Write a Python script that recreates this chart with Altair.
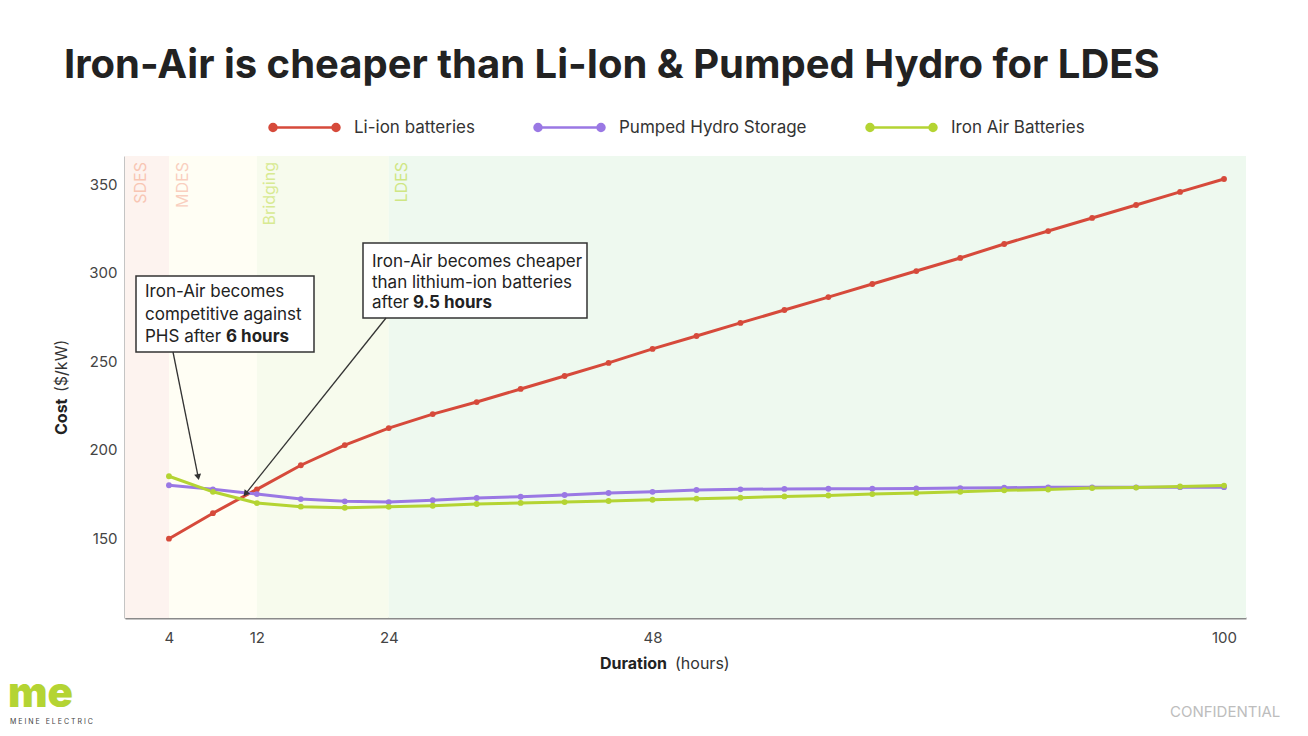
import math
import altair as alt
import pandas as pd

# ---------------- data ----------------
hours = [4, 8, 12, 16, 20, 24, 28, 32, 36, 40, 44, 48, 52, 56, 60, 64, 68, 72, 76, 80, 84, 88, 92, 96, 100]
li_ion = [149.8, 164.2, 177.7, 191.3, 202.7, 212.3, 220.2, 227.0, 234.4, 241.7, 249.1, 257.0, 264.3,
          271.7, 279.0, 286.3, 293.7, 301.0, 308.4, 316.3, 323.6, 331.0, 338.3, 345.7, 353.0]
phs = [180.0, 177.7, 175.0, 172.2, 170.9, 170.5, 171.5, 172.8, 173.5, 174.5, 175.6, 176.3, 177.3,
       177.7, 177.9, 178.0, 178.0, 178.2, 178.4, 178.6, 178.8, 178.8, 178.8, 178.9, 178.9]
iron_air = [185.1, 176.3, 169.9, 167.9, 167.3, 167.8, 168.4, 169.4, 170.0, 170.5, 171.1, 171.8, 172.4,
            173.0, 173.7, 174.2, 175.0, 175.6, 176.3, 177.1, 177.6, 178.4, 178.7, 179.3, 179.8]
series_names = ["Li-ion batteries", "Pumped Hydro Storage", "Iron Air Batteries"]
series_colors = ["#d64a3b", "#9a78e4", "#b4d433"]

band_names = ["SDES", "MDES", "Bridging", "LDES"]
band_start = [0, 4, 12, 24]
band_end = [4, 12, 24, 102]
band_label_x = [1.45, 5.3, 13.2, 25.2]
band_bg = ["#fdf3ef", "#fffef4", "#f7fbed", "#eef9ef"]
band_fg = ["#f8c6b4", "#f9cfbf", "#d8ea92", "#cfe684"]

x_ticks = [4, 12, 24, 48, 100]
y_ticks = [150, 200, 250, 300, 350]

W, H = 1121, 462
FONT = "Inter"

# ---------------- tables ----------------
rows = []
for name, vals in zip(series_names, [li_ion, phs, iron_air]):
    for h, v in zip(hours, vals):
        rows.append({"hours": h, "cost": v, "series": name})
df = pd.DataFrame(rows)

bands = pd.DataFrame({"band": band_names, "start": band_start, "end": band_end,
                      "lx": band_label_x, "bg": band_bg, "fg": band_fg})

xscale = alt.Scale(domain=[0, 102], nice=False, zero=False)
yscale = alt.Scale(domain=[105, 366], nice=False, zero=False)

bg = alt.Chart(bands).mark_rect().encode(
    x=alt.X("start:Q", scale=xscale, axis=alt.Axis(values=x_ticks, title=None, labelPadding=12)),
    x2="end:Q",
    y=alt.value(0), y2=alt.value(H),
    fill=alt.Fill("bg:N", scale=None),
)

band_text = alt.Chart(bands).mark_text(angle=270, align="right", baseline="middle",
                                       fontSize=16, font=FONT).encode(
    x=alt.X("lx:Q", scale=xscale), y=alt.value(6), text="band:N",
    fill=alt.Fill("fg:N", scale=None),
)

legend_path = ("M-0.9,0L0.9,0"
               "M-1,0A0.1,0.1,0,1,0,-0.8,0A0.1,0.1,0,1,0,-1,0Z"
               "M0.8,0A0.1,0.1,0,1,0,1,0A0.1,0.1,0,1,0,0.8,0Z")

color = alt.Color("series:N", scale=alt.Scale(domain=series_names, range=series_colors),
                  legend=alt.Legend(orient="none", legendX=143, legendY=-65, direction="horizontal",
                                    title=None, symbolType=legend_path, symbolSize=4900,
                                    symbolStrokeWidth=2.5, labelFontSize=17, labelColor="#333333",
                                    labelFont=FONT, labelOffset=13, columnPadding=54, padding=0,
                                    labelLimit=400))

lines = alt.Chart(df).mark_line(strokeWidth=3).encode(
    x=alt.X("hours:Q", scale=xscale),
    y=alt.Y("cost:Q", scale=yscale, axis=alt.Axis(values=y_ticks, title=None, labelPadding=8)),
    color=color,
    order="hours:Q",
)
points = alt.Chart(df).mark_point(filled=True, size=34, opacity=1).encode(
    x=alt.X("hours:Q", scale=xscale),
    y=alt.Y("cost:Q", scale=yscale),
    color=alt.Color("series:N", scale=alt.Scale(domain=series_names, range=series_colors), legend=None),
)


def txt(text, x, y, **kw):
    props = dict(font=FONT, align="left", baseline="alphabetic", color="#222222")
    props.update(kw)
    return alt.Chart(pd.DataFrame({"t": [text]})).mark_text(**props).encode(
        x=alt.value(x), y=alt.value(y), text="t:N")


def box(x1, y1, x2, y2):
    return alt.Chart(pd.DataFrame({"k": [0]})).mark_rect(
        fill="white", stroke="#333333", strokeWidth=1.5).encode(
        x=alt.value(x1), x2=alt.value(x2), y=alt.value(y1), y2=alt.value(y2))


def arrow(x1, y1, x2, y2):
    dx, dy = x2 - x1, y2 - y1
    n = math.hypot(dx, dy)
    ux, uy = dx / n, dy / n
    ang = math.degrees(math.atan2(ux, -uy)) % 360
    shaft = alt.Chart(pd.DataFrame({"k": [0]})).mark_rule(color="#333333", strokeWidth=1.3).encode(
        x=alt.value(x1), y=alt.value(y1), x2=alt.value(x2 - ux * 5), y2=alt.value(y2 - uy * 5))
    head = alt.Chart(pd.DataFrame({"k": [0]})).mark_point(
        shape="triangle-up", filled=True, color="#333333", size=50, opacity=1).encode(
        x=alt.value(x2 - ux * 4), y=alt.value(y2 - uy * 4), angle=alt.value(ang))
    return shaft + head


ann_size = 17
annotations = [
    box(11, 120, 189, 196),
    txt("Iron-Air becomes", 20, 141, fontSize=ann_size),
    txt("competitive against", 20, 164, fontSize=ann_size),
    txt("PHS after", 20, 186, fontSize=ann_size),
    txt("6 hours", 101, 186, fontSize=ann_size, fontWeight="bold"),
    box(238, 87, 462, 162),
    txt("Iron-Air becomes cheaper", 247, 111, fontSize=ann_size),
    txt("than lithium-ion batteries", 247, 132, fontSize=ann_size),
    txt("after", 247, 152, fontSize=ann_size),
    txt("9.5 hours", 288, 152, fontSize=ann_size, fontWeight="bold"),
    arrow(48, 196, 74, 325),
    arrow(261, 162, 118, 341),
]

decor = [
    txt("Iron-Air is cheaper than Li-Ion & Pumped Hydro for LDES", -61, -78,
        fontSize=40, fontWeight="bold", color="#222222"),
    txt("Cost", -63, 279, angle=270, baseline="middle", fontSize=16, fontWeight="bold"),
    txt("($/kW)", -63, 236, angle=270, baseline="middle", fontSize=16, color="#333333"),
    txt("Duration", 475, 513, fontSize=16, fontWeight="bold"),
    txt("(hours)", 550, 513, fontSize=16, color="#333333"),
    txt("me", -117, 551, fontSize=42, fontWeight=900, color="#b4d433"),
    txt("M E I N E \u00a0 E L E C T R I C", -115, 568, fontSize=7, color="#444444"),
    txt("CONFIDENTIAL", 1045, 561, fontSize=15, color="#bdbdbd"),
]

chart = alt.layer(bg, band_text, lines, points, *annotations, *decor).properties(
    width=W, height=H,
    padding={"left": 117, "top": 148, "right": 54, "bottom": 110},
    autosize=alt.AutoSizeParams(type="none"),
    background="white",
).configure_view(stroke=None).configure_axis(
    grid=False, ticks=False, domainColor="#8a8a8a", domainWidth=2,
    labelFontSize=15, labelColor="#444444", labelFont=FONT,
)

chart.save("out.html", embed_options={"renderer": "svg", "actions": False})
